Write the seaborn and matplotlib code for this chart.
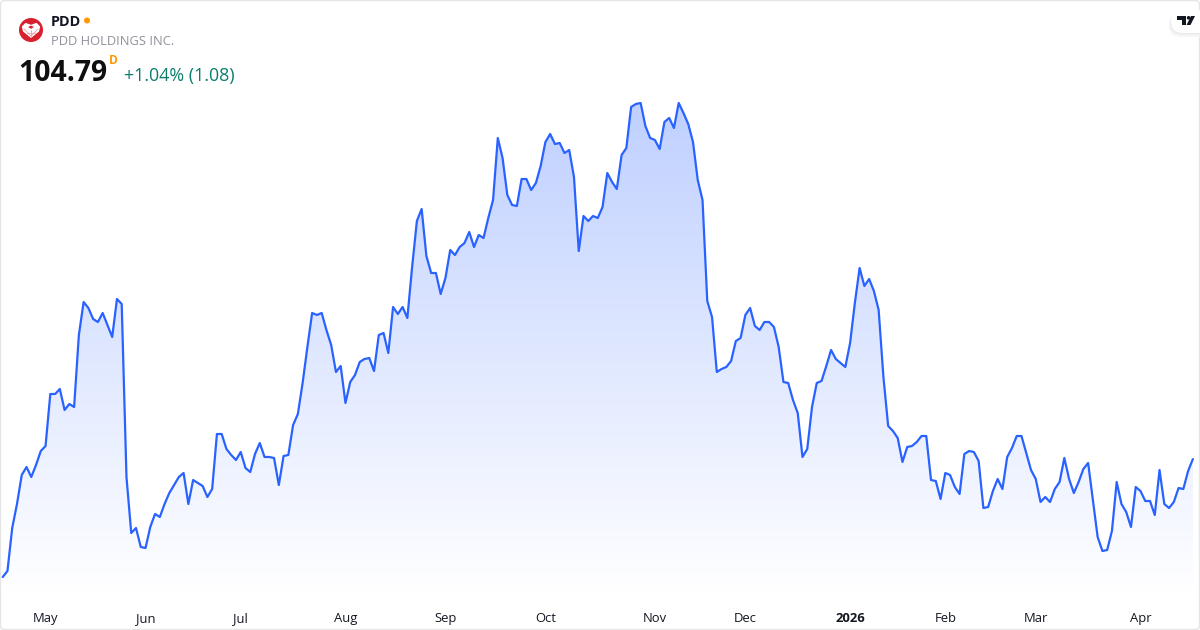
import numpy as np
import pandas as pd
import matplotlib
matplotlib.use('Agg')
import matplotlib.pyplot as plt
from matplotlib.colors import LinearSegmentedColormap
from matplotlib.patches import Circle, FancyBboxPatch, Polygon
import seaborn as sns

# daily closes, one year of sessions
prices = [
    93.0, 93.6, 97.9, 100.3, 103.2, 104.0, 103.0, 104.2, 105.6, 106.1,
    111.3, 111.3, 111.8, 109.7, 110.3, 110.0, 117.2, 120.5, 119.9, 118.8,
    118.5, 119.4, 118.2, 117.0, 120.8, 120.3, 103.0, 97.4, 97.9, 96.0,
    95.9, 98.0, 99.3, 99.0, 100.3, 101.4, 102.2, 103.0, 103.4, 100.3,
    102.7, 102.4, 102.1, 101.0, 101.8, 107.3, 107.3, 105.8, 105.2, 104.7,
    105.5, 103.9, 103.5, 105.3, 106.4, 105.0, 105.0, 104.9, 102.2, 105.1,
    105.2, 108.2, 109.3, 112.4, 116.0, 119.4, 119.2, 119.4, 117.7, 116.2,
    113.5, 114.1, 110.4, 112.5, 113.2, 114.5, 114.8, 114.9, 113.6, 117.2,
    117.4, 115.4, 120.0, 119.3, 120.0, 118.9, 124.0, 128.6, 129.8, 125.1,
    123.4, 123.4, 121.3, 122.9, 125.7, 125.2, 126.0, 126.4, 127.5, 126.0,
    127.2, 126.9, 128.9, 130.7, 136.9, 134.9, 131.2, 130.2, 130.1, 132.8,
    132.8, 131.7, 132.4, 134.1, 136.5, 137.3, 136.3, 136.4, 135.4, 135.7,
    133.0, 125.6, 129.1, 128.6, 129.1, 128.9, 130.0, 133.4, 132.5, 131.8,
    135.2, 135.9, 140.0, 140.3, 140.4, 138.1, 136.9, 136.7, 135.8, 138.5,
    138.9, 137.9, 140.4, 139.4, 138.3, 136.5, 132.7, 130.7, 120.6, 119.0,
    113.5, 113.8, 114.0, 114.6, 116.6, 116.9, 119.2, 119.9, 118.1, 117.7,
    118.5, 118.5, 118.0, 116.0, 112.5, 112.4, 110.7, 109.4, 105.0, 105.8,
    110.0, 112.4, 112.6, 114.1, 115.7, 114.8, 114.4, 114.0, 116.4, 120.4,
    123.9, 122.1, 122.8, 121.6, 119.7, 113.0, 108.1, 107.6, 106.9, 104.5,
    106.0, 106.1, 106.5, 107.1, 107.1, 102.7, 102.6, 100.8, 103.4, 103.2,
    102.0, 101.3, 105.3, 105.6, 105.5, 104.6, 99.9, 100.0, 101.6, 102.8,
    101.8, 105.0, 105.9, 107.1, 107.1, 105.4, 103.7, 102.8, 100.5, 101.0,
    100.5, 101.8, 102.5, 104.9, 102.8, 101.4, 102.5, 103.8, 104.4, 100.7,
    97.0, 95.6, 95.7, 97.6, 102.5, 100.3, 99.5, 98.0, 102.0, 101.6,
    100.6, 100.6, 99.2, 103.7, 100.3, 99.9, 100.5, 101.9, 101.8, 103.6,
    104.79,
]
sessions = list(range(len(prices)))

month_labels = ['May', 'Jun', 'Jul', 'Aug', 'Sep', 'Oct', 'Nov', 'Dec', '2026', 'Feb', 'Mar', 'Apr']
month_starts = [9, 30, 50, 72, 93, 114, 137, 156, 178, 198, 217, 239]

data = pd.DataFrame({'session': sessions, 'price': prices})

sns.set_theme(style='white')
plt.rcParams['font.family'] = ['Open Sans', 'DejaVu Sans']

LINE = '#2962ff'

fig = plt.figure(figsize=(12, 6.3), dpi=100)
ax = fig.add_axes([0, 0, 1, 1])
ax.set_xlim(-0.567, 251.5)
ax.set_ylim(87.7, 150.7)

# gradient under the line, clipped to the area
bottom = 91.2
area = ax.fill_between(data['session'], data['price'], bottom, color='none', lw=0)
cmap = LinearSegmentedColormap.from_list('area', ['#ffffff', '#bfd0ff'])
grad = ax.imshow(np.linspace(1, 0, 256).reshape(-1, 1), cmap=cmap, vmin=0, vmax=1, aspect='auto',
                 extent=[0, 250, bottom, 140.7], zorder=1)
grad.set_clip_path(area.get_paths()[0], transform=ax.transData)
ax.set_xlim(-0.567, 251.5)
ax.set_ylim(87.7, 150.7)

sns.lineplot(data=data, x='session', y='price', color=LINE, linewidth=1.6, ax=ax, zorder=3)

ax.set_xlabel('')
ax.set_ylabel('')
ax.set_yticks([])
ax.set_xticks(month_starts)
ax.set_xticklabels(month_labels, fontsize=9.4, color='#131722')
ax.tick_params(axis='x', direction='in', length=0, pad=-13)
ax.get_xticklabels()[8].set_fontweight('bold')
sns.despine(ax=ax, left=True, bottom=True)

# card, logos, everything that is not chart: pixel coordinates
deco = fig.add_axes([0, 0, 1, 1], zorder=5)
deco.set_xlim(0, 1200)
deco.set_ylim(630, 0)
deco.axis('off')
deco.patch.set_alpha(0)

deco.add_patch(FancyBboxPatch((0.5, 0.5), 1199, 629, boxstyle='round,pad=0,rounding_size=4',
                              fc='none', ec='#e6e6e6', lw=1))

# red PDD mark
deco.add_patch(Circle((31, 30), 12, fc='#d9202f', ec='none'))
deco.add_patch(Polygon([(31, 38), (23, 31.5), (21.8, 26.5), (25.5, 22.8), (31, 24.8), (36.5, 22.8), (40.2, 26.5), (39, 31.5)],
                       fc='white', ec='none'))
deco.add_patch(Polygon([(28, 27), (31, 25.6), (34, 27), (31, 28.8)], fc='#d9202f', ec='none'))
for x0, y0, x1, y1 in [(24, 29, 31, 36), (38, 29, 31, 36), (31, 29.5, 31, 36), (27, 33, 35, 33)]:
    deco.plot([x0, x1], [y0, y1], color='#eea2a8', lw=0.6)

deco.add_patch(Circle((87, 20.5), 3, fc='#ff9800', ec='none'))
deco.text(51, 21.5, 'PDD', fontsize=10.4, fontweight='bold', color='#131722', va='center', ha='left')
deco.text(51, 41.5, 'PDD HOLDINGS INC.', fontsize=9.3, color='#8f929a', va='center', ha='left')
deco.text(18.5, 73.5, '104.79', fontsize=20.4, fontweight='bold', color='#0f0f0f', va='center', ha='left')
deco.text(109, 61, 'D', fontsize=8.6, fontweight='bold', color='#ff9800', va='center', ha='left')
deco.text(124, 76, '+1.04% (1.08)', fontsize=12.85, color='#0a7d6c', va='center', ha='left')

# TradingView badge
for off, col in [(4, '#f7f7f8'), (2.5, '#f1f2f4'), (1.2, '#e9eaee')]:
    deco.add_patch(FancyBboxPatch((1171 - off / 2, 10 + off), 40, 23, boxstyle='round,pad=0,rounding_size=11.5', fc=col, ec='none'))
deco.add_patch(FancyBboxPatch((1171, 10), 40, 23, boxstyle='round,pad=0,rounding_size=11.5', fc='white', ec='none'))
deco.add_patch(Polygon([(1177, 16), (1186, 16), (1186, 25), (1182, 25), (1182, 19.5), (1177, 19.5)], fc='#131722', ec='none'))
deco.add_patch(Circle((1188.6, 17.8), 1.8, fc='#131722', ec='none'))
deco.add_patch(Polygon([(1191, 16), (1195, 16), (1190.5, 25), (1186.5, 25)], fc='#131722', ec='none'))

fig.savefig('out.png', dpi=100)
